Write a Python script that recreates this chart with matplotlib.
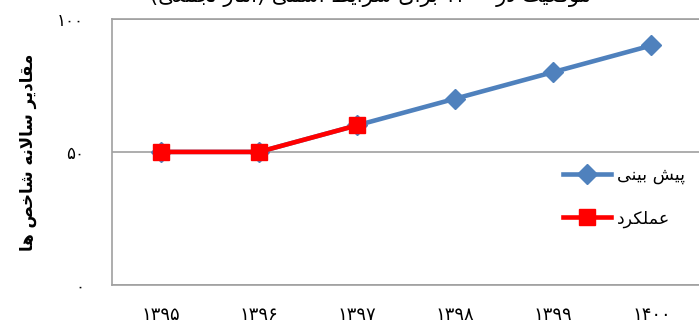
import matplotlib
matplotlib.use("Agg")
import matplotlib.pyplot as plt

# data
years = ["۱۳۹۵", "۱۳۹۶", "۱۳۹۷", "۱۳۹۸", "۱۳۹۹", "۱۴۰۰"]
forecast = [50, 50, 60, 70, 80, 90]
actual = [50, 50, 60]
y_ticks = [0, 50, 100]
y_tick_labels = ["۰", "۵۰", "۱۰۰"]

title_text = "موقعیت در ۱۴۰۰ برای شرایط اسمی (آمار تجمعی)"
ylabel_text = "مقادیر سالانه شاخص ها"
forecast_label = "پیش بینی"
actual_label = "عملکرد"

# matplotlib has no Arabic shaping, so map letters to presentation forms by hand
FORMS = {
    "ا": (0xFE8D, 0xFE8E, None, None),
    "آ": (0xFE81, 0xFE82, None, None),
    "ب": (0xFE8F, 0xFE90, 0xFE91, 0xFE92),
    "پ": (0xFB56, 0xFB57, 0xFB58, 0xFB59),
    "ت": (0xFE95, 0xFE96, 0xFE97, 0xFE98),
    "ج": (0xFE9D, 0xFE9E, 0xFE9F, 0xFEA0),
    "خ": (0xFEA5, 0xFEA6, 0xFEA7, 0xFEA8),
    "د": (0xFEA9, 0xFEAA, None, None),
    "ر": (0xFEAD, 0xFEAE, None, None),
    "س": (0xFEB1, 0xFEB2, 0xFEB3, 0xFEB4),
    "ش": (0xFEB5, 0xFEB6, 0xFEB7, 0xFEB8),
    "ص": (0xFEB9, 0xFEBA, 0xFEBB, 0xFEBC),
    "ط": (0xFEC1, 0xFEC2, 0xFEC3, 0xFEC4),
    "ع": (0xFEC9, 0xFECA, 0xFECB, 0xFECC),
    "ق": (0xFED5, 0xFED6, 0xFED7, 0xFED8),
    "ک": (0xFB8E, 0xFB8F, 0xFB90, 0xFB91),
    "ل": (0xFEDD, 0xFEDE, 0xFEDF, 0xFEE0),
    "م": (0xFEE1, 0xFEE2, 0xFEE3, 0xFEE4),
    "ن": (0xFEE5, 0xFEE6, 0xFEE7, 0xFEE8),
    "ه": (0xFEE9, 0xFEEA, 0xFEEB, 0xFEEC),
    "و": (0xFEED, 0xFEEE, None, None),
    "ی": (0xFBFC, 0xFBFD, 0xFBFE, 0xFBFF),
}


def dual(ch):
    return ch in FORMS and FORMS[ch][2] is not None


def shape(text):
    out = []
    i = 0
    n = len(text)
    while i < n:
        ch = text[i]
        if ch not in FORMS:
            out.append(ch)
            i += 1
            continue
        prev = text[i - 1] if i > 0 else ""
        join_prev = dual(prev)
        # lam-alef ligature
        if ch == "ل" and i + 1 < n and text[i + 1] == "ا":
            out.append(chr(0xFEFC if join_prev else 0xFEFB))
            i += 2
            continue
        nxt = text[i + 1] if i + 1 < n else ""
        join_next = dual(ch) and nxt in FORMS
        iso, fin, ini, med = FORMS[ch]
        if join_prev and join_next:
            code = med
        elif join_prev:
            code = fin
        elif join_next:
            code = ini
        else:
            code = iso
        out.append(chr(code))
        i += 1
    # visual order: reverse, but keep digit runs left to right
    out = out[::-1]
    res = []
    run = []
    for c in out:
        if "۰" <= c <= "۹":
            run.append(c)
        else:
            res.extend(run[::-1])
            run = []
            res.append({"(": ")", ")": "("}.get(c, c))
    res.extend(run[::-1])
    return "".join(res)


plt.rcParams["font.family"] = ["DejaVu Sans"]

fig = plt.figure(figsize=(6.99, 3.31), dpi=100)
ax = fig.add_axes([0.160, 0.139, 0.842, 0.804])

x = list(range(len(years)))
ax.plot(x, forecast, color="#4F81BD", lw=3.3, marker="D", ms=10.5,
        mec="#4F81BD", mew=1, label=shape(forecast_label), zorder=3)
ax.plot(x[:len(actual)], actual, color="#FF0000", lw=3.3, marker="s", ms=12,
        mec="#FF0000", mew=1, label=shape(actual_label), zorder=4)

ax.set_xlim(-0.5, len(years) - 0.5)
ax.set_ylim(0, 100)
ax.set_xticks(x)
ax.set_xticklabels(years, fontsize=13)
ax.set_yticks(y_ticks)
ax.set_yticklabels(y_tick_labels, fontsize=12)
ax.tick_params(axis="x", length=0, pad=15)
ax.tick_params(axis="y", length=0, pad=20)

ax.grid(axis="y", color="#A0A0A0", lw=1.2)
ax.set_axisbelow(True)
for side in ["left", "bottom", "top"]:
    ax.spines[side].set_color("#A0A0A0")
    ax.spines[side].set_linewidth(1.2)
ax.spines["right"].set_visible(False)

ax.set_ylabel(shape(ylabel_text), fontsize=12, fontweight="bold")
ax.yaxis.set_label_coords(-0.128, 0.5)

fig.text(0.53, 1 - 2 / 331, shape(title_text), fontsize=15,
         ha="center", va="baseline")

ax.legend(loc="center left", bbox_to_anchor=(0.805, 0.405),
          bbox_transform=fig.transFigure, frameon=False, fontsize=12.5,
          handlelength=2.8, handletextpad=0.3, labelspacing=1.45,
          borderpad=0, borderaxespad=0)

fig.savefig("out.png", dpi=100)
